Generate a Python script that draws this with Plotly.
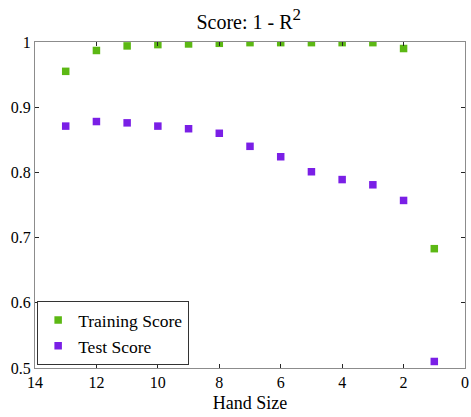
import plotly.graph_objects as go

hand_size = [13, 12, 11, 10, 9, 8, 7, 6, 5, 4, 3, 2, 1]
training_score = [0.955, 0.987, 0.994, 0.996, 0.997, 0.998, 0.999, 0.999, 0.999, 0.999, 0.999, 0.990, 0.683]
test_score = [0.871, 0.878, 0.876, 0.871, 0.867, 0.860, 0.840, 0.824, 0.801, 0.789, 0.781, 0.757, 0.510]

font_family = "Liberation Serif"

fig = go.Figure()
fig.add_trace(go.Scatter(x=hand_size, y=training_score, mode="markers", name="Training Score",
                         marker=dict(symbol="square", size=7.5, color="#5cb814", line=dict(width=0))))
fig.add_trace(go.Scatter(x=hand_size, y=test_score, mode="markers", name="Test Score",
                         marker=dict(symbol="square", size=7.5, color="#7a1fe6", line=dict(width=0))))

axis_common = dict(showline=True, linecolor="#8c8c8c", linewidth=1, mirror="ticks",
                   ticks="inside", ticklen=4, tickcolor="#262626", showgrid=False, zeroline=False,
                   automargin=False,
                   tickfont=dict(family=font_family, size=16, color="#000"))

fig.update_layout(
    template="none",
    font=dict(family=font_family, size=16, color="#000"),
    width=471, height=417,
    margin=dict(l=35, r=6, t=42, b=49, pad=0),
    paper_bgcolor="white", plot_bgcolor="white",
    title=dict(text="Score: 1 - R<sup><span style='font-size:17px'>2</span></sup>",
               x=0.528, xanchor="center", y=0.948, yanchor="middle",
               font=dict(family=font_family, size=20, color="#000")),
    xaxis=dict(range=[14, 0], dtick=2, tick0=0,
               title=dict(text="Hand Size", font=dict(family=font_family, size=18, color="#000"), standoff=6),
               **axis_common),
    yaxis=dict(range=[0.5, 1], dtick=0.1, tick0=0.5, **axis_common),
    legend=dict(x=0.005, y=0.009, xanchor="left", yanchor="bottom",
                bgcolor="white", bordercolor="#333", borderwidth=1,
                font=dict(family=font_family, size=17.5, color="#000"),
                tracegroupgap=0, itemwidth=30),
    showlegend=True,
)

fig.write_html("out.html",
               config={"displayModeBar": False},
               post_script="document.body.style.margin='0';document.body.style.overflow='hidden';")
